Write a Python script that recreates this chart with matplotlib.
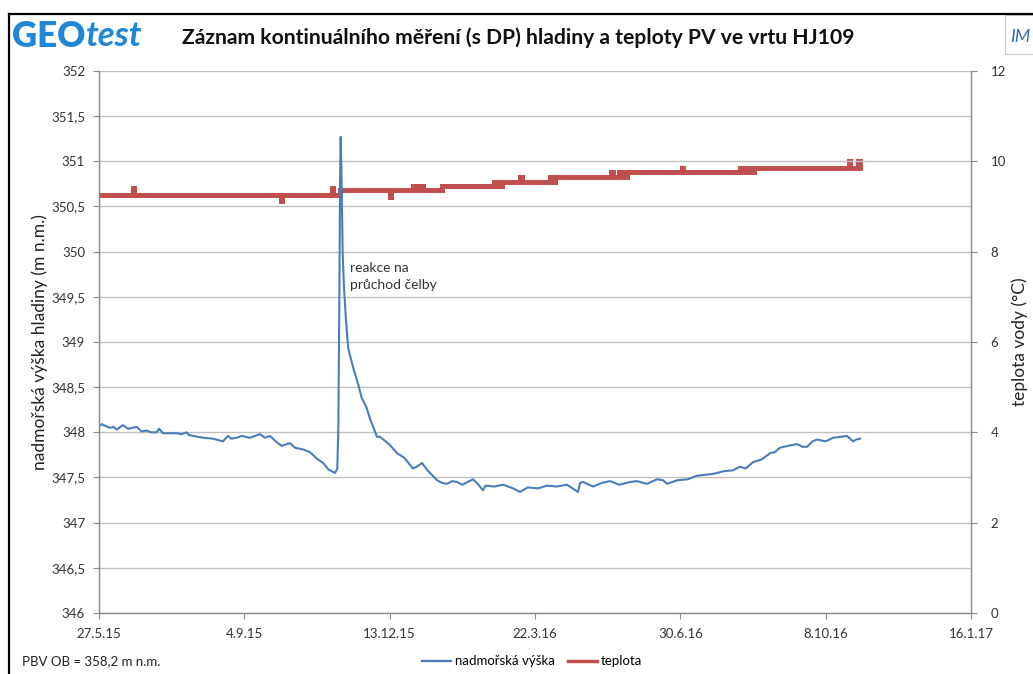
import matplotlib
matplotlib.use("Agg")
import matplotlib.pyplot as plt
import pandas as pd
from matplotlib.lines import Line2D
from matplotlib.patches import Rectangle
from matplotlib.ticker import FuncFormatter, MultipleLocator

plt.rcParams["font.family"] = ["Lato", "DejaVu Sans"]

START = pd.Timestamp("2015-05-27")

# hladina - dny od 27.5.15 a hodnoty (m n.m.)
level_days = [0.2, 1.9, 4.5, 7.6, 10, 12.2, 16.5, 20, 23, 25.9,
              29.4, 32.8, 36, 39.7, 41.3, 44, 48, 53.5, 57, 60.3,
              62, 64.9, 71.6, 78.4, 85.3, 88.8, 91, 94.7, 98.2, 103.9,
              110.8, 114.2, 117.7, 122.3, 125.7, 131.4, 134.9, 140.6, 145.2, 149.8,
              154.3, 157.8, 162.4, 164, 164.7, 165.4, 165.9, 166.3, 166.8, 167.7,
              168.6, 170, 171.5, 175, 178.4, 180.8, 184.2, 186.5, 191.3, 193.4,
              200.2, 205, 210, 216, 218.8, 222.3, 226, 232.6, 236, 239.5,
              243, 246.3, 250, 257.3, 260, 264.2, 266, 272, 278, 284.9,
              289.7, 295, 302, 308.3, 315, 322, 329.6, 331, 333, 340,
              346, 351.6, 358, 365.4, 370, 377, 384, 388, 390.9, 398,
              405, 411.5, 417, 422.5, 430, 436.3, 441, 445, 450, 456,
              461.8, 465, 468.6, 474, 480.3, 484, 487.2, 491, 494, 500,
              505.1, 510, 514.7, 518.8, 521, 523.6]
level = [348.07, 348.09, 348.07, 348.05, 348.06, 348.03, 348.08, 348.04, 348.05, 348.06,
         348.01, 348.02, 348.00, 348.00, 348.04, 347.99, 347.99, 347.99, 347.98, 348.00,
         347.97, 347.96, 347.94, 347.93, 347.90, 347.96, 347.93, 347.94, 347.96, 347.94,
         347.98, 347.94, 347.96, 347.89, 347.85, 347.88, 347.83, 347.81, 347.78, 347.71,
         347.66, 347.59, 347.55, 347.60, 348.06, 349.50, 350.80, 351.27, 350.90, 349.98,
         349.60, 349.23, 348.93, 348.71, 348.53, 348.38, 348.27, 348.15, 347.95, 347.95,
         347.86, 347.77, 347.72, 347.60, 347.62, 347.66, 347.58, 347.47, 347.44, 347.43,
         347.46, 347.45, 347.42, 347.48, 347.44, 347.36, 347.41, 347.40, 347.42, 347.38,
         347.34, 347.39, 347.38, 347.41, 347.40, 347.42, 347.34, 347.44, 347.45, 347.40,
         347.44, 347.46, 347.42, 347.45, 347.46, 347.43, 347.48, 347.47, 347.43, 347.47,
         347.48, 347.52, 347.53, 347.54, 347.57, 347.58, 347.62, 347.60, 347.67, 347.70,
         347.77, 347.78, 347.83, 347.85, 347.87, 347.84, 347.84, 347.90, 347.92, 347.90,
         347.94, 347.95, 347.96, 347.90, 347.92, 347.93]

# teplota - schodovita rada (dny od 27.5.15, °C)
temp_days = [0, 23.5, 24.2, 125, 126, 160, 161, 165.8, 200, 201,
             216, 218, 220, 223, 236, 272, 275, 277, 290, 291,
             310, 312, 314, 352, 354, 358, 360, 363, 401, 402,
             441, 443, 446, 448, 451, 516, 517, 522, 523.5]
temp = [9.25, 9.40, 9.25, 9.12, 9.25, 9.40, 9.25, 9.36, 9.22, 9.36,
        9.46, 9.36, 9.46, 9.36, 9.46, 9.55, 9.46, 9.55, 9.66, 9.55,
        9.66, 9.55, 9.66, 9.76, 9.66, 9.76, 9.66, 9.76, 9.86, 9.76,
        9.86, 9.76, 9.86, 9.76, 9.86, 10.0, 9.86, 10.0, 9.86]

x_ticks = ["27.5.15", "4.9.15", "13.12.15", "22.3.16", "30.6.16", "8.10.16", "16.1.17"]

BLUE = "#4a7ebb"
RED = "#c0504d"
GRID = "#bfbfbf"
AXC = "#8c8c8c"

level_x = START + pd.to_timedelta(level_days, unit="D")
temp_x = START + pd.to_timedelta(temp_days, unit="D")
tick_x = [START + pd.Timedelta(days=100 * i) for i in range(len(x_ticks))]

fig = plt.figure(figsize=(10.33, 6.74), dpi=100)
ax = fig.add_axes([0.0958, 0.0905, 0.8442, 0.8042])
ax2 = ax.twinx()

ax2.plot(temp_x, temp, color=RED, lw=3.6, drawstyle="steps-post", solid_joinstyle="miter")
ax.plot(level_x, level, color=BLUE, lw=1.5)

ax.set_zorder(ax2.get_zorder() + 1)
ax.patch.set_visible(False)

ax.set_xlim(tick_x[0], tick_x[-1])
ax.set_xticks(tick_x)
ax.set_xticklabels(x_ticks)
ax.set_ylim(346, 352)
ax.yaxis.set_major_locator(MultipleLocator(0.5))
ax.yaxis.set_major_formatter(FuncFormatter(lambda v, p: f"{v:g}".replace(".", ",")))
ax2.set_ylim(0, 12)
ax2.yaxis.set_major_locator(MultipleLocator(2))

ax.grid(axis="y", color=GRID, lw=1.0)
ax.set_axisbelow(True)

for a in (ax, ax2):
    a.spines["top"].set_visible(False)
    for s in ("left", "right", "bottom"):
        a.spines[s].set_color(AXC)
        a.spines[s].set_linewidth(0.9)
    a.tick_params(colors=AXC, labelcolor="#333333", length=4, width=0.8, labelsize=9.5)
ax.tick_params(axis="x", pad=7)
ax.tick_params(axis="y", pad=6)
ax2.tick_params(axis="y", pad=10)

ax.set_ylabel("nadmořská výška hladiny (m n.m.)", fontsize=12.5, color="#222222", labelpad=2)
ax2.set_ylabel("teplota vody (°C)", fontsize=12.5, color="#222222", labelpad=4)

ax.text(START + pd.Timedelta(days=173), 349.72, "reakce na\nprůchod čelby",
        fontsize=10, color="#333333", ha="left", va="center", linespacing=1.5)

# hlavicka
fig.text(0.012, 0.946, "GEO", fontsize=25, fontweight="heavy", color="#1f86d8",
         ha="left", va="center")
fig.text(0.083, 0.946, "test", fontsize=25, style="italic", fontweight="bold",
         color="#1f86d8", ha="left", va="center")
fig.text(0.502, 0.944, "Záznam kontinuálního měření (s DP) hladiny a teploty PV ve vrtu HJ109",
         fontsize=15.2, fontweight="bold", color="#111111", ha="center", va="center")
fig.add_artist(Rectangle((0.973, 0.92), 0.03, 0.058, transform=fig.transFigure,
                         facecolor="white", edgecolor="#cccccc", lw=0.8))
fig.text(0.988, 0.945, "IM", fontsize=13, style="italic", color="#2f6db5",
         ha="center", va="center")

# ramecek stranky
fig.add_artist(Line2D([0.0087, 0.0087], [0.0, 0.979], transform=fig.transFigure,
                      color="black", lw=1.6))
fig.add_artist(Line2D([0.0087, 1.0], [0.979, 0.979], transform=fig.transFigure,
                      color="black", lw=1.6))

fig.text(0.021, 0.019, "PBV OB = 358,2 m n.m.", fontsize=9.5, color="#222222",
         ha="left", va="center")
handles = [Line2D([], [], color=BLUE, lw=1.6), Line2D([], [], color=RED, lw=2.5)]
fig.legend(handles, ["nadmořská výška", "teplota"], loc="center", ncol=2,
           bbox_to_anchor=(0.515, 0.019), frameon=False, fontsize=9.5,
           handlelength=2.2, handletextpad=0.3, columnspacing=1.0)

fig.savefig("out.png", dpi=100)
